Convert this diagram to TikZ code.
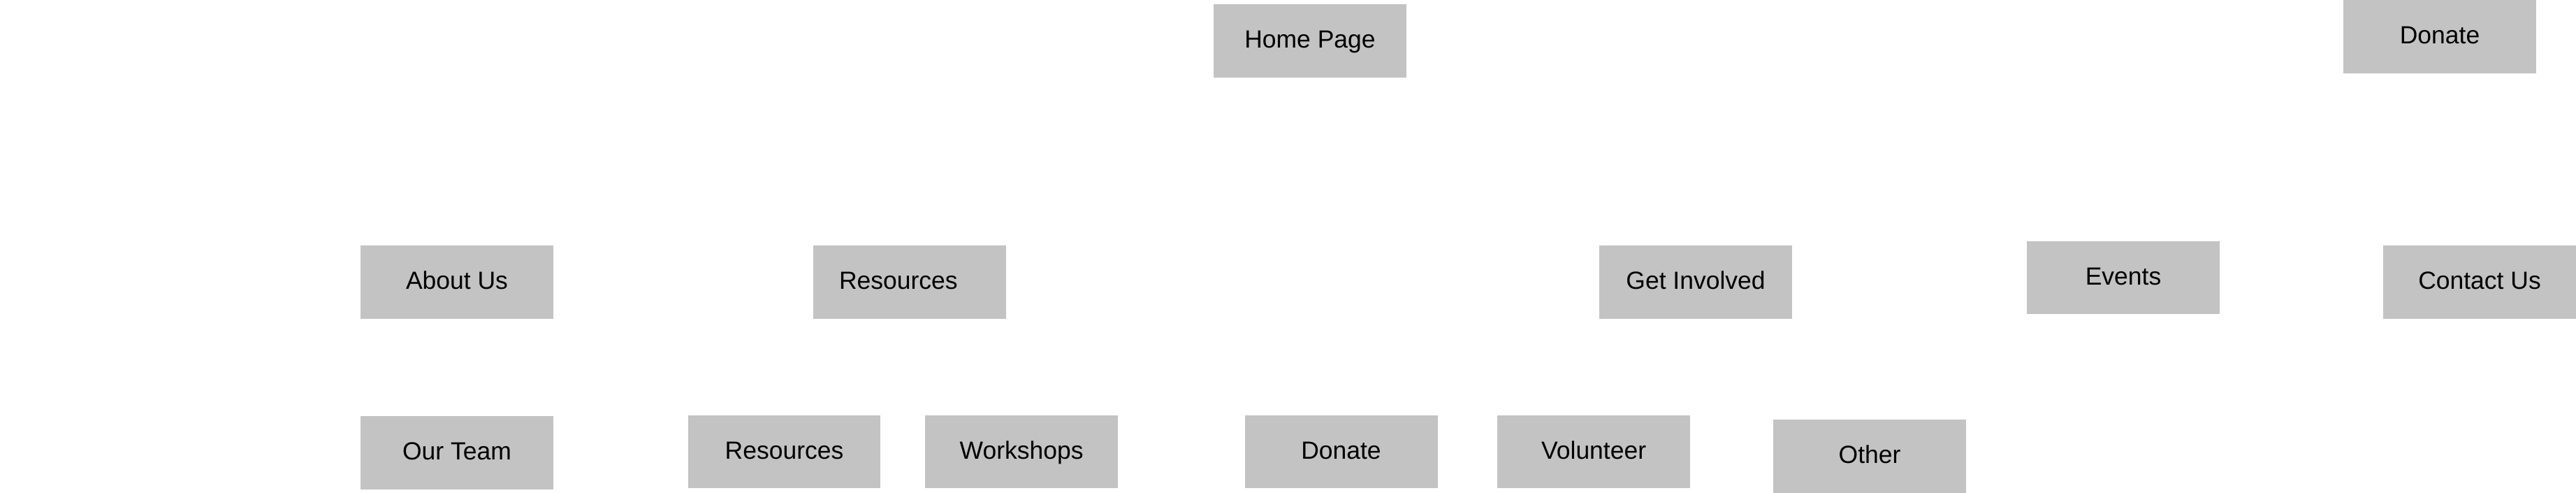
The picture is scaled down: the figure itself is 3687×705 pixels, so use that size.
\documentclass[tikz,border=0pt]{standalone}
\usepackage{fontspec}
\setmainfont{Liberation Sans}
\usetikzlibrary{positioning}
\definecolor{boxgray}{RGB}{195,195,195}
\tikzset{
  pagenode/.style={rectangle,fill=boxgray,minimum width=5.52cm,minimum height=2.1cm,inner sep=0pt,
    font=\fontsize{20.2}{24}\selectfont,text height=0.52cm,text depth=0.1cm},
  leftnode/.style={pagenode,text width=4.04cm,align=left,inner xsep=0.74cm}
}
\begin{document}
\begin{tikzpicture}[x=0.02cm,y=-0.02cm,node distance=2.76cm and 1.26cm]
  \useasboundingbox (0,0) rectangle (3687,705);
  % top level
  \node[pagenode] (home) at (1875,58.5) {Home Page};
  \node[pagenode] (donatetop) at (3492,52.5) {Donate};
  % sections
  \node[pagenode] (about) at (654,403.5) {About Us};
  \node[leftnode] (resmain) at (1302,403.5) {Resources};
  \node[pagenode] (involved) at (2427,403.5) {Get Involved};
  \node[pagenode] (events) at (3039,397) {Events};
  \node[pagenode] (contact) at (3549,403.5) {Contact Us};
  % sub pages
  \node[pagenode,below=of about] (team) {Our Team};
  \node[pagenode] (ressub) at (1122.5,646) {Resources};
  \node[pagenode,right=of ressub] (workshops) {Workshops};
  \node[pagenode] (donatesub) at (1919.5,646) {Donate};
  \node[pagenode,right=1.7cm of donatesub] (volunteer) {Volunteer};
  \node[pagenode] (other) at (2676,652.5) {Other};
\end{tikzpicture}
\end{document}
